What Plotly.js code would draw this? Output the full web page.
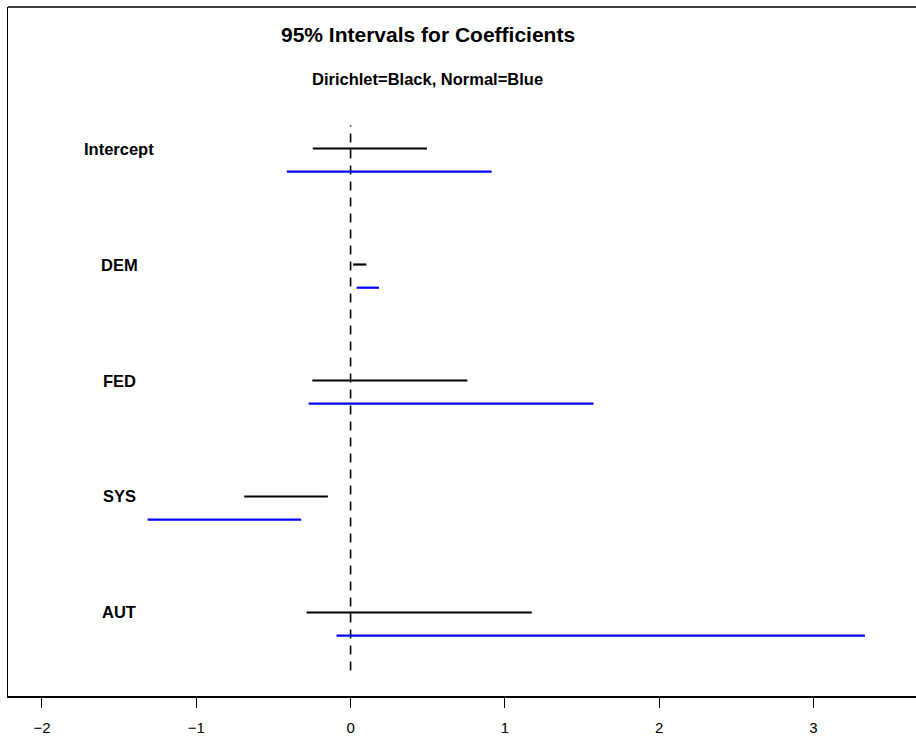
<!DOCTYPE html>
<html>
<head>
<meta charset="utf-8">
<script src="https://cdn.plot.ly/plotly-3.0.1.min.js"></script>
<style>
html, body { margin: 0; padding: 0; overflow: hidden; background: #fff; }
#chart { width: 916px; height: 736px; }
</style>
</head>
<body>
<div id="chart"></div>
<script>
// Coefficient names (top to bottom)
const categories = ["Intercept", "DEM", "FED", "SYS", "AUT"];
// Dirichlet (black) 95% intervals
const dirichletLow  = [-0.245, 0.017, -0.248, -0.689, -0.285];
const dirichletHigh = [ 0.495, 0.102,  0.757, -0.147,  1.174];
// Normal (blue) 95% intervals
const normalLow  = [-0.413, 0.039, -0.272, -1.315, -0.091];
const normalHigh = [ 0.914, 0.184,  1.574, -0.320,  3.333];
// Axis ticks
const xTicks = [-2, -1, 0, 1, 2, 3];

const n = categories.length;
const rowY = categories.map((c, i) => n - i);
const blueOffset = 0.2;

function segs(lo, hi, off) {
  const xs = [], ys = [];
  for (let i = 0; i < n; i++) {
    xs.push(lo[i], hi[i], null);
    ys.push(rowY[i] - off, rowY[i] - off, null);
  }
  return {xs, ys};
}
const d = segs(dirichletLow, dirichletHigh, 0);
const b = segs(normalLow, normalHigh, blueOffset);

const traces = [
  {x: [0, 0], y: [0.5, 5.2], mode: 'lines', type: 'scatter',
   line: {color: '#000', width: 1.6, dash: '9px,7px'}, hoverinfo: 'skip'},
  {x: d.xs, y: d.ys, mode: 'lines', type: 'scatter',
   line: {color: '#000', width: 2.2}, connectgaps: false},
  {x: b.xs, y: b.ys, mode: 'lines', type: 'scatter',
   line: {color: '#0000ff', width: 2.2}, connectgaps: false}
];

const font = "'Liberation Sans', Arial, Helvetica, sans-serif";
const annotations = categories.map((c, i) => ({
  x: -1.5, y: rowY[i], xref: 'x', yref: 'y', text: '<b>' + c + '</b>',
  showarrow: false, xanchor: 'center', yanchor: 'middle',
  font: {family: font, size: 16.5, color: '#000'}
}));
annotations.push({
  x: 0.5, y: 5.98, xref: 'x', yref: 'y', text: '<b>95% Intervals for Coefficients</b>',
  showarrow: false, xanchor: 'center', yanchor: 'middle',
  font: {family: font, size: 21, color: '#000'}
});
annotations.push({
  x: 0.5, y: 5.6, xref: 'x', yref: 'y', text: '<b>Dirichlet=Black, Normal=Blue</b>',
  showarrow: false, xanchor: 'center', yanchor: 'middle',
  font: {family: font, size: 16.5, color: '#000'}
});

const layout = {
  width: 916, height: 736, autosize: false,
  margin: {l: 8, r: 0, t: 7, b: 40, pad: 0},
  paper_bgcolor: '#fff', plot_bgcolor: '#fff',
  showlegend: false,
  font: {family: font, color: '#000'},
  xaxis: {
    range: [-2.22, 3.664], tickvals: xTicks, ticktext: xTicks.map(v => (v < 0 ? '\u2212' + Math.abs(v) : String(v))),
    ticks: 'outside', ticklen: 10, tickwidth: 1, tickcolor: '#000',
    showline: true, linecolor: '#000', linewidth: 1.5,
    showgrid: false, zeroline: false, ticklabelstandoff: 7,
    tickfont: {family: font, size: 15, color: '#000'}
  },
  yaxis: {
    range: [0.28, 6.22], showticklabels: false, ticks: '',
    showline: true, linecolor: '#000', linewidth: 1.5,
    showgrid: false, zeroline: false
  },
  shapes: [
    {type: 'line', xref: 'paper', yref: 'paper', x0: 0, x1: 1, y0: 1, y1: 1,
     line: {color: '#000', width: 1.5}}
  ],
  annotations: annotations
};

Plotly.newPlot('chart', traces, layout, {displayModeBar: false, staticPlot: true});
</script>
</body>
</html>
